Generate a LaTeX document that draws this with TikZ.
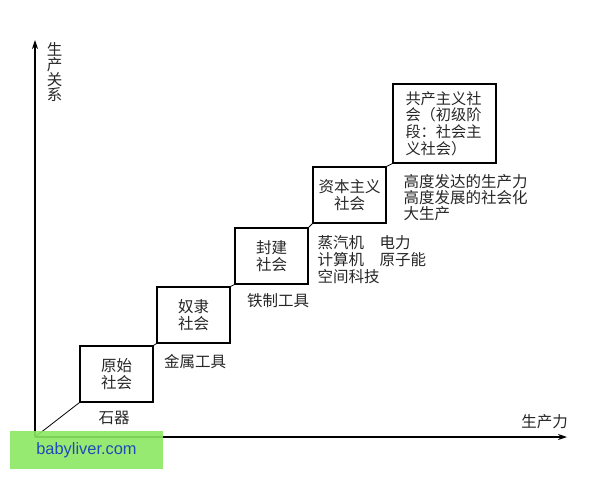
\documentclass[tikz,border=0pt]{standalone}
\usepackage{fontspec}
\newfontfamily\cjk{Noto Sans CJK SC}
\setsansfont{Liberation Sans}
\usetikzlibrary{arrows.meta}
\definecolor{wmgreen}{RGB}{140,232,98}
\definecolor{wmblue}{RGB}{30,75,185}

\begin{document}
\begin{tikzpicture}
  [x=1pt,y=-1pt,line width=1.1pt,
   every node/.style={inner sep=0pt,text=black!85,font=\cjk\fontsize{15.5}{17}\selectfont},
   box/.style={draw=black,minimum width=73pt,minimum height=56pt,align=center},
   note/.style={align=left,anchor=west}]
  \useasboundingbox (0,0) rectangle (600,480);

  % axes
  \coordinate (o) at (35,437);
  \coordinate (xe) at (567,437);
  \coordinate (ye) at (35,40);
  \draw[-{Stealth[length=9pt,width=6pt]}] (o) -- (xe);
  \draw[-{Stealth[length=9pt,width=6pt]}] (o) -- (ye);
  \node[align=center,font=\cjk\fontsize{15.5}{15}\selectfont] (ly) at (54.5,72) {生\\产\\关\\系};
  \node (lx) at (544.5,422) {生产力};

  % societies
  \node[box] (s1) at (116.5,374) {原始\\社会};
  \node[box] (s2) at (193.5,315) {奴隶\\社会};
  \node[box] (s3) at (271.5,256) {封建\\社会};
  \node[box] (s4) at (349.5,195) {资本主义\\社会};
  \node[box,minimum width=103pt,minimum height=79pt,text width=78pt,align=left,
        font=\cjk\fontsize{15.2}{16.7}\selectfont] (s5) at (444.5,123.5)
        {共产主义社\\会（初级阶\\段：社会主\\义社会）};

  \foreach \from/\to in {o/s1.south west,s1.north east/s2.south west,
      s2.north east/s3.south west,s3.north east/s4.south west,
      s4.north east/s5.south west}
    \draw[line width=0.8pt] (\from) -- (\to);

  % productive forces
  \node (t1) at (114,418) {石器};
  \node (t2) at (195,362) {金属工具};
  \node (t3) at (278,301) {铁制工具};
  \node[note] (t4) at (317,260) {蒸汽机　电力\\计算机　原子能\\空间科技};
  \node[note,font=\cjk\fontsize{15.5}{16}\selectfont] (t5) at (403,198)
        {高度发达的生产力\\高度发展的社会化\\大生产};

  % watermark
  \node[fill=wmgreen,fill opacity=0.9,text opacity=1,text=wmblue,
        minimum width=153pt,minimum height=38pt,
        font=\sffamily\fontsize{16.4}{18}\selectfont] (wm) at (86.5,450) {babyliver.com};
\end{tikzpicture}
\end{document}
